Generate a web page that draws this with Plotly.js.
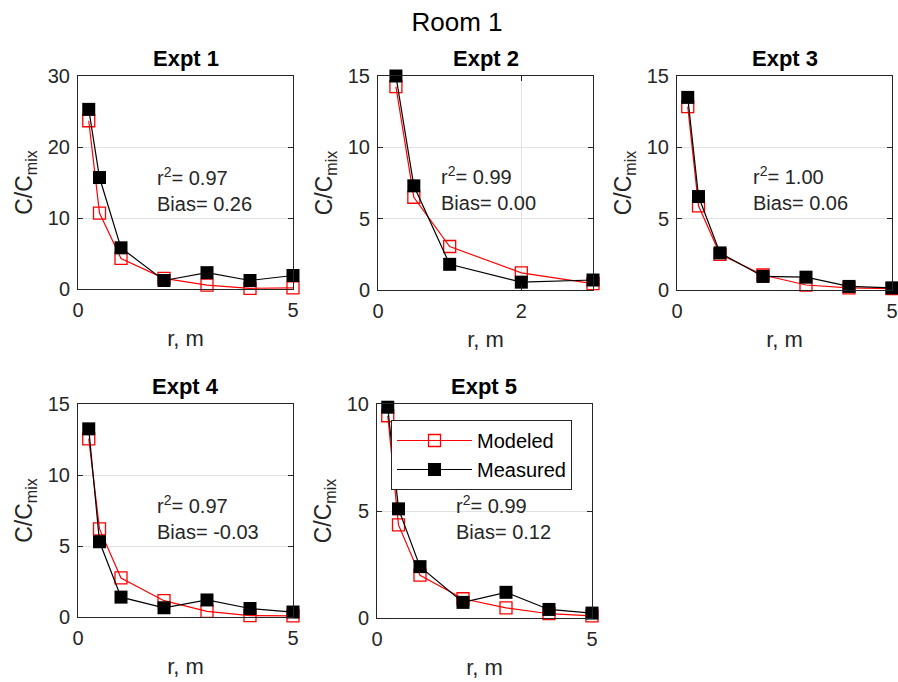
<!DOCTYPE html>
<html>
<head>
<meta charset="utf-8">
<script src="https://cdn.plot.ly/plotly-3.0.1.min.js"></script>
<style>html,body{margin:0;padding:0;background:#fff;}#chart{width:898px;height:682px;}</style>
</head>
<body>
<div id="chart"></div>
<script>
// ---- data ----
const expTitles = ['Expt 1', 'Expt 2', 'Expt 3', 'Expt 4', 'Expt 5'];
const r1 = [0.25, 0.5, 1, 2, 3, 4, 5];
const r2 = [0.25, 0.5, 1, 2, 3];
const r3 = [0.25, 0.5, 1, 2, 3, 4, 5];
const r4 = [0.25, 0.5, 1, 2, 3, 4, 5];
const r5 = [0.25, 0.5, 1, 2, 3, 4, 5];
const modeled1 = [23.7, 10.7, 4.3, 1.5, 0.55, 0.1, 0.15];
const measured1 = [25.3, 15.7, 5.8, 1.2, 2.3, 1.2, 1.9];
const modeled2 = [14.25, 6.5, 3.05, 1.2, 0.45];
const measured2 = [15.0, 7.3, 1.8, 0.55, 0.7];
const modeled3 = [12.85, 5.9, 2.5, 1.05, 0.35, 0.15, 0.1];
const measured3 = [13.5, 6.55, 2.6, 0.95, 0.9, 0.25, 0.15];
const modeled4 = [12.55, 6.2, 2.75, 1.15, 0.4, 0.1, 0.08];
const measured4 = [13.25, 5.3, 1.4, 0.65, 1.2, 0.6, 0.35];
const modeled5 = [9.45, 4.35, 2.0, 0.9, 0.47, 0.2, 0.1];
const measured5 = [9.85, 5.1, 2.4, 0.73, 1.2, 0.4, 0.23];
const r2Labels = ['0.97', '0.99', '1.00', '0.97', '0.99'];
const biasLabels = ['0.26', '0.00', '0.06', '-0.03', '0.12'];
const xMax = [5, 3, 5, 5, 5];
const xStep = [5, 2, 5, 5, 5];
const yMax = [30, 15, 15, 15, 10];
const yStep = [10, 5, 5, 5, 5];

const rs = [r1, r2, r3, r4, r5];
const mods = [modeled1, modeled2, modeled3, modeled4, modeled5];
const meas = [measured1, measured2, measured3, measured4, measured5];

// ---- layout geometry (pixels) ----
const W = 898, H = 682;
const px = v => v / W;
const py = v => 1 - v / H;
const boxes = [
  {l: 78, r: 293, t: 76, b: 289},
  {l: 378, r: 593, t: 76, b: 290},
  {l: 677, r: 892, t: 76, b: 290},
  {l: 78, r: 293, t: 404, b: 617},
  {l: 377, r: 592, t: 404, b: 618}
];
const statPos = [
  {x: 155, y: 190}, {x: 439, y: 189}, {x: 751, y: 189},
  {x: 155, y: 517}, {x: 454, y: 517}
];

const FONT = 'Liberation Sans, Arial, Helvetica, sans-serif';
const AX = '#262626';

const traces = [];
const layout = {
  width: W, height: H,
  margin: {l: 0, r: 0, t: 0, b: 0},
  paper_bgcolor: '#ffffff', plot_bgcolor: '#ffffff',
  font: {family: FONT, size: 20, color: '#000'},
  title: {text: 'Room 1', x: px(457), xanchor: 'center', y: py(22), yanchor: 'middle',
          xref: 'paper', yref: 'paper', font: {family: FONT, size: 26, color: '#000'}},
  showlegend: true,
  legend: {
    x: px(391), y: py(420), xanchor: 'left', yanchor: 'top',
    bgcolor: '#ffffff', bordercolor: AX, borderwidth: 1,
    font: {family: FONT, size: 20, color: '#000'},
    itemwidth: 75, traceorder: 'normal'
  },
  annotations: []
};

for (let i = 0; i < 5; i++) {
  const n = i === 0 ? '' : String(i + 1);
  const xa = 'x' + n, ya = 'y' + n;
  const show = i === 4;
  traces.push({
    x: rs[i], y: mods[i], xaxis: xa, yaxis: ya, type: 'scatter',
    mode: 'lines+markers', name: 'Modeled', showlegend: show, cliponaxis: false,
    line: {color: '#ff0000', width: 1.2},
    marker: {symbol: 'square-open', size: 12, color: '#ff0000', line: {width: 1.3, color: '#ff0000'}}
  });
  traces.push({
    x: rs[i], y: meas[i], xaxis: xa, yaxis: ya, type: 'scatter',
    mode: 'lines+markers', name: 'Measured', showlegend: show, cliponaxis: false,
    line: {color: '#000000', width: 1.2},
    marker: {symbol: 'square', size: 13, color: '#000000'}
  });
  const b = boxes[i];
  const common = {
    showline: true, mirror: 'ticks', linecolor: AX, linewidth: 1,
    ticks: 'inside', ticklen: 5, tickcolor: AX, tickwidth: 1,
    showgrid: true, gridcolor: '#e2e2e2', gridwidth: 1, zeroline: false,
    tickfont: {family: FONT, size: 20, color: AX}, fixedrange: true, automargin: false
  };
  layout['xaxis' + n] = Object.assign({}, common, {
    domain: [px(b.l), px(b.r)], anchor: ya,
    range: [0, xMax[i]], tick0: 0, dtick: xStep[i], ticklabelstandoff: 3,
    title: {text: 'r, m', font: {family: FONT, size: 22, color: AX}, standoff: 10}
  });
  layout['yaxis' + n] = Object.assign({}, common, {
    domain: [py(b.b), py(b.t)], anchor: xa,
    range: [0, yMax[i]], tick0: 0, dtick: yStep[i], ticklabelstandoff: 3,
    title: {text: 'C/C<sub>mix</sub>', font: {family: FONT, size: 23, color: AX}, standoff: 8}
  });
  const cx = (b.l + b.r) / 2;
  layout.annotations.push({
    text: '<b>' + expTitles[i] + '</b>', xref: 'paper', yref: 'paper',
    x: px(cx), y: py(b.t - 18), xanchor: 'center', yanchor: 'middle', showarrow: false,
    font: {family: FONT, size: 22, color: '#000'}
  });
  layout.annotations.push({
    text: 'r<sup>2</sup>= ' + r2Labels[i] + '<br>Bias= ' + biasLabels[i],
    xref: 'paper', yref: 'paper', x: px(statPos[i].x), y: py(statPos[i].y),
    xanchor: 'left', yanchor: 'middle', align: 'left', showarrow: false,
    font: {family: FONT, size: 20, color: AX}
  });
}

Plotly.newPlot('chart', traces, layout, {displayModeBar: false});
</script>
</body>
</html>
